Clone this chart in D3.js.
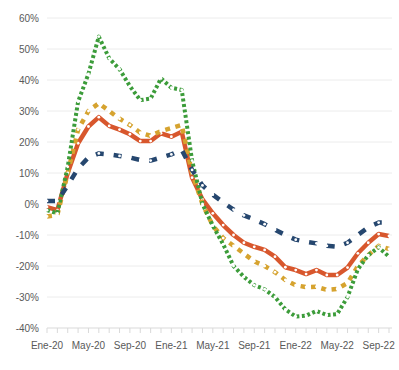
<!DOCTYPE html>
<html lang="es">
<head>
    <meta charset="UTF-8">
    <title>Variación interanual</title>
    <script src="https://d3js.org/d3.v7.min.js"></script>
    <style>
        body {
            margin: 0;
            background: #fff;
            font-family: Arial, "Liberation Sans", sans-serif;
        }
        .tick-label {
            font-size: 10px;
            fill: #595959;
        }
    </style>
</head>
<body>
<div id="container"></div>
<script>
    // Meses (Ene-20 a Oct-22)
    const meses = [
        "Ene-20","Feb-20","Mar-20","Abr-20","May-20","Jun-20","Jul-20","Ago-20","Sep-20","Oct-20","Nov-20","Dic-20",
        "Ene-21","Feb-21","Mar-21","Abr-21","May-21","Jun-21","Jul-21","Ago-21","Sep-21","Oct-21","Nov-21","Dic-21",
        "Ene-22","Feb-22","Mar-22","Abr-22","May-22","Jun-22","Jul-22","Ago-22","Sep-22","Oct-22"
    ];

    // Valores en %
    const serieAzul = [1, 1, 6, 11.5, 15, 16.3, 16, 15.5, 15, 14.2, 14, 15, 16, 17.5,
        11, 6, 3, 0.5, -1.8, -3.7, -5, -6.5, -8.3, -10, -11.5, -12.2, -12.7, -13.5, -13.8, -12.5, -10, -7.5, -6, -6];
    const serieRoja = [-1, -2, 10, 19.6, 25, 28, 25.2, 24, 22.5, 20.3, 20.3, 22.8, 21.7, 23.3,
        8.5, 1.5, -3, -6.8, -10, -12.5, -13.8, -14.8, -17, -20.4, -21.3, -22.6, -21.3, -22.9, -22.9, -20.5, -15.9, -12.5, -9.7, -10.3];
    const serieOro = [-4, -3.5, 10, 24, 30, 32.5, 30, 27.5, 25.5, 23, 22, 23.5, 24.5, 25.5,
        10, 0, -7, -11, -13.5, -16, -18.5, -20, -22, -24.5, -26.2, -26.8, -26.7, -27.7, -27.4, -25.5, -20, -16.5, -13.5, -14.5];
    const serieVerde = [-2, -3, 12, 33, 42, 54, 47, 43.5, 38, 33.5, 34, 40.5, 37.5, 36.8,
        14, 0, -7, -13, -20, -23.5, -26.2, -27.5, -30, -34, -36.3, -36, -34.5, -35.8, -35.5, -30, -21, -16.5, -14, -17];

    const ticksY = [-40, -30, -20, -10, 0, 10, 20, 30, 40, 50, 60];
    const etiquetasX = ["Ene-20","May-20","Sep-20","Ene-21","May-21","Sep-21","Ene-22","May-22","Sep-22"];

    const width = 399, height = 370;
    const margin = { left: 47, right: 392, top: 18, bottom: 328 };

    const svg = d3.select('#container').append('svg')
        .attr('width', width)
        .attr('height', height);

    const x = d3.scalePoint().domain(meses).range([margin.left, 389]);
    const y = d3.scaleLinear().domain([-40, 60]).range([margin.bottom, margin.top]);

    // Líneas de cuadrícula
    svg.selectAll('.grid')
        .data(ticksY.filter(d => d !== -40))
        .enter()
        .append('line')
        .attr('x1', margin.left)
        .attr('x2', margin.right)
        .attr('y1', d => y(d))
        .attr('y2', d => y(d))
        .attr('stroke', '#ececec')
        .attr('stroke-width', 1);

    // Etiquetas eje Y
    svg.selectAll('.ylab')
        .data(ticksY)
        .enter()
        .append('text')
        .attr('class', 'tick-label')
        .attr('x', 39)
        .attr('y', d => y(d) + 3.5)
        .attr('text-anchor', 'end')
        .text(d => d + '%');

    // Eje X
    svg.append('line')
        .attr('x1', margin.left).attr('x2', margin.right)
        .attr('y1', margin.bottom).attr('y2', margin.bottom)
        .attr('stroke', '#d9d9d9');

    svg.selectAll('.xtick')
        .data(meses)
        .enter()
        .append('line')
        .attr('x1', d => x(d)).attr('x2', d => x(d))
        .attr('y1', margin.bottom).attr('y2', margin.bottom + 5)
        .attr('stroke', '#d9d9d9');

    svg.selectAll('.xlab')
        .data(etiquetasX)
        .enter()
        .append('text')
        .attr('class', 'tick-label')
        .attr('x', d => x(d))
        .attr('y', 349)
        .attr('text-anchor', 'middle')
        .text(d => d);

    const series = [
        { datos: serieRoja, color: '#d8572d', ancho: 4.5, dash: null },
        { datos: serieOro, color: '#d6a32f', ancho: 4.5, dash: '5 5.5' },
        { datos: serieVerde, color: '#3c9c3a', ancho: 4, dash: '3 2.5' },
        { datos: serieAzul, color: '#26476f', ancho: 4.5, dash: '8 10' }
    ];

    const linea = d3.line()
        .x((d, i) => x(meses[i]))
        .y(d => y(d));

    series.forEach(s => {
        svg.append('path')
            .attr('d', linea(s.datos))
            .attr('fill', 'none')
            .attr('stroke', s.color)
            .attr('stroke-width', s.ancho)
            .attr('stroke-linejoin', 'round')
            .attr('stroke-dasharray', s.dash);

        // Marcadores blancos
        svg.selectAll(null)
            .data(s.datos)
            .enter()
            .append('circle')
            .attr('cx', (d, i) => x(meses[i]))
            .attr('cy', d => y(d))
            .attr('r', 1.4)
            .attr('fill', '#fff');
    });
</script>
</body>
</html>
